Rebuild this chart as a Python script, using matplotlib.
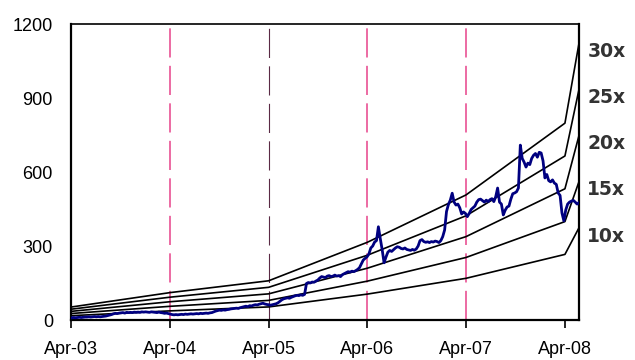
import numpy as np
import pandas as pd
import matplotlib
matplotlib.use("Agg")
import matplotlib.pyplot as plt
import matplotlib.transforms as mtransforms

# ================== DATA ==================
# weekly closing price, starting first Friday of Apr-03
price_start = "2003-04-04"
prices = [
    # 2003
    9, 10, 9, 10, 11, 10, 11, 12, 12, 13, 12, 13, 14, 13, 14, 13, 14,
    15, 16, 18, 20, 22, 25, 27, 26, 28, 29, 30, 28, 31, 30, 31, 30, 32,
    31, 32, 31, 33, 32,
    # 2004
    33, 32, 31, 33, 32, 31, 30, 32, 30, 29, 27, 28, 26,
    24, 22, 21, 22, 21, 22, 23, 22, 24, 23, 24, 25, 24,
    25, 26, 25, 27, 26, 27, 28, 27, 29, 30, 33, 36, 38,
    40, 39, 41, 40, 42, 43, 45, 46, 47, 48, 47, 50, 52, 54,
    # 2005
    56, 54, 58, 57, 60, 62, 61, 64, 66, 68, 65, 63, 62,
    60, 62, 64, 66, 70, 76, 82, 86, 88, 90, 88, 92, 95,
    98, 100, 99, 102, 100, 104, 148, 152, 150, 154, 153, 158, 162,
    170, 176, 174, 172, 178, 180, 176, 178, 182, 178, 180, 176, 184,
    # 2006
    188, 192, 196, 194, 198, 196, 200, 205, 212, 228, 243, 250, 256,
    268, 292, 300, 316, 322, 378, 330, 285, 232, 255, 275, 282, 278,
    285, 292, 297, 295, 290, 288, 292, 286, 284, 282, 286, 283, 288,
    300, 322, 326, 318, 315, 317, 314, 318, 316, 320, 318, 314, 322,
    # 2007
    338, 365, 440, 468, 486, 514, 478, 466, 470, 455, 430, 438, 432,
    419, 432, 448, 455, 462, 478, 488, 490, 484, 478, 486, 480, 488,
    492, 480, 500, 535, 478, 470, 426, 445, 458, 462, 490, 512, 515,
    520, 535, 709, 655, 640, 620, 636, 630, 655, 668, 675, 660, 680,
    # 2008
    677, 645, 576, 590, 565, 560, 568, 555, 550, 515, 505, 434, 402, 446,
    470, 478, 482, 485, 478, 470, 476,
]

# EPS path used for the P/E bands
eps_dates = ["2003-04-01", "2004-04-01", "2005-04-01", "2006-04-01",
             "2007-04-01", "2008-04-01", "2008-05-23"]
eps_values = [1.75, 3.7, 5.3, 10.5, 16.9, 26.6, 37.4]
multiples = [10, 15, 20, 25, 30]
band_labels = ["10x", "15x", "20x", "25x", "30x"]

tick_dates = ["2003-04-01", "2004-04-01", "2005-04-01", "2006-04-01",
              "2007-04-01", "2008-04-01"]
tick_labels = ["Apr-03", "Apr-04", "Apr-05", "Apr-06", "Apr-07", "Apr-08"]
year_marks = ["2004-04-01", "2005-04-01", "2006-04-01", "2007-04-01"]
y_ticks = [0, 300, 600, 900, 1200]

# ================== FIGURE ==================
plt.rcParams["font.family"] = ["Liberation Sans", "DejaVu Sans"]

fig = plt.figure(figsize=(6.35, 3.6), dpi=100)
ax = fig.add_axes([0.1118, 0.1111, 0.80, 0.8222])

price_dates = pd.date_range(price_start, periods=len(prices), freq="7D")
eps_d = pd.to_datetime(eps_dates)
eps = np.array(eps_values)

# year separators
mark_colors = ["#ea5f9c", "#5b2a45", "#ea5f9c", "#ea5f9c"]
mark_widths = [1.3, 0.8, 1.3, 1.3]
for d, c, w in zip(year_marks, mark_colors, mark_widths):
    ax.axvline(pd.Timestamp(d), color=c, lw=w,
               dashes=(21 / w, 6 / w), zorder=1)

# P/E bands
for m in multiples:
    ax.plot(eps_d, eps * m, color="black", lw=1.2, zorder=2)

# price
ax.plot(price_dates, prices, color="#000080", lw=2.0, zorder=3)

# band labels on the right
for m, lab in zip(multiples, band_labels):
    ax.annotate(lab, xy=(1.0, eps[-1] * m),
                xycoords=mtransforms.blended_transform_factory(ax.transAxes, ax.transData),
                xytext=(6, -6), textcoords="offset points",
                ha="left", va="center", fontsize=13.5, fontweight="bold",
                color="#333333", family="DejaVu Sans", annotation_clip=False)

ax.set_xlim(pd.Timestamp("2003-04-01"), pd.Timestamp("2008-05-23"))
ax.set_ylim(0, 1200)
ax.set_yticks(y_ticks)
ax.set_xticks(pd.to_datetime(tick_dates))
ax.set_xticklabels(tick_labels)

ax.tick_params(axis="y", length=0, pad=13, labelsize=13)
ax.tick_params(axis="x", direction="out", length=6, width=1.2, pad=9, labelsize=13)

for side in ["left", "right", "bottom"]:
    ax.spines[side].set_linewidth(1.6)
ax.spines["top"].set_linewidth(1.2)

fig.savefig("out.png", dpi=100)
